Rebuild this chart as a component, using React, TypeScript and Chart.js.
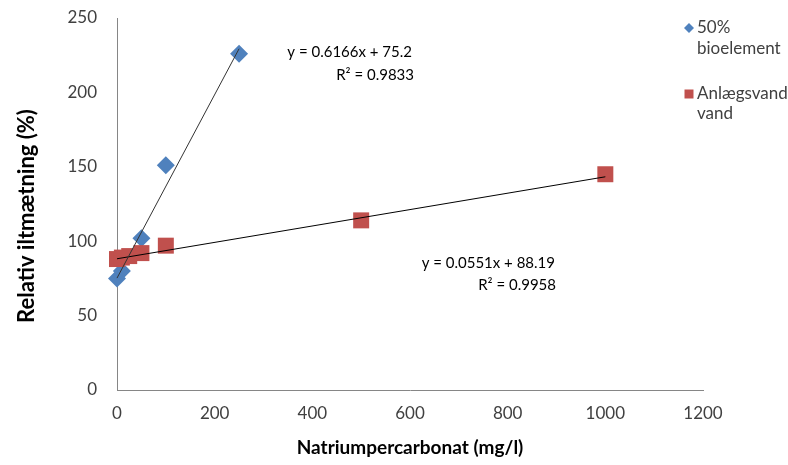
import React, { useEffect, useRef } from "react";
import { Chart, registerables } from "chart.js";

Chart.register(...registerables);

const bioX = [0, 10, 50, 100, 250];
const bioY = [75, 80, 102, 151, 226];
const anlX = [0, 10, 25, 50, 100, 500, 1000];
const anlY = [88, 89, 90, 92, 97, 114, 145];

const bioSlope = 0.6166;
const bioIntercept = 75.2;
const bioR2 = "0.9833";
const anlSlope = 0.0551;
const anlIntercept = 88.19;
const anlR2 = "0.9958";

const bioName = ["50%", "bioelement"];
const anlName = ["Anlægsvand", "vand"];

const xTitle = "Natriumpercarbonat (mg/l)";
const yTitle = "Relativ iltmætning (%)";

const BLUE = "#4F81BD";
const RED = "#C0504D";
const FONT = "Lato, 'Open Sans', sans-serif";

const toPts = (xs: number[], ys: number[]) => xs.map((x, i) => ({ x, y: ys[i] }));
const trend = (xs: number[], m: number, b: number) => {
  const lo = Math.min(...xs);
  const hi = Math.max(...xs);
  return [
    { x: lo, y: m * lo + b },
    { x: hi, y: m * hi + b },
  ];
};

const annotPlugin = {
  id: "annot",
  afterDraw(chart: any) {
    const ctx = chart.ctx;
    ctx.save();
    ctx.fillStyle = "#000";
    ctx.font = `15px ${FONT}`;
    ctx.textBaseline = "middle";
    ctx.textAlign = "right";
    // trendline equations
    ctx.fillText(`y = ${bioSlope}x + ${bioIntercept}`, 412, 52);
    ctx.fillText(`R² = ${bioR2}`, 414, 75);
    ctx.fillText(`y = ${anlSlope}x + ${anlIntercept}`, 555, 263);
    ctx.fillText(`R² = ${anlR2}`, 556, 285);

    // y-axis title
    ctx.save();
    ctx.translate(27, 216);
    ctx.rotate(-Math.PI / 2);
    ctx.textAlign = "center";
    ctx.font = `bold 22px ${FONT}`;
    ctx.fillStyle = "#000";
    ctx.fillText(yTitle, 0, 0);
    ctx.restore();

    // legend
    ctx.textAlign = "left";
    ctx.font = `17px ${FONT}`;
    const drawMarker = (style: string, color: string, x: number, y: number) => {
      ctx.fillStyle = color;
      ctx.beginPath();
      if (style === "diamond") {
        const r = 5;
        ctx.moveTo(x - r, y);
        ctx.lineTo(x, y - r);
        ctx.lineTo(x + r, y);
        ctx.lineTo(x, y + r);
        ctx.closePath();
      } else {
        ctx.rect(x - 4.5, y - 4.5, 9, 9);
      }
      ctx.fill();
    };
    drawMarker("diamond", BLUE, 689, 28);
    drawMarker("rect", RED, 689, 94);
    ctx.fillStyle = "#404040";
    bioName.forEach((t, i) => ctx.fillText(t, 697, 28 + i * 21));
    anlName.forEach((t, i) => ctx.fillText(t, 697, 94 + i * 20));
    ctx.restore();
  },
};

export default function App() {
  const ref = useRef<HTMLCanvasElement>(null);
  useEffect(() => {
    if (!ref.current) return;
    const chart = new Chart(ref.current, {
      type: "scatter",
      data: {
        datasets: [
          {
            label: "trend bio",
            data: trend(bioX, bioSlope, bioIntercept),
            showLine: true,
            pointRadius: 0,
            borderColor: "#333333",
            borderWidth: 1,
            order: -1,
            clip: false,
          } as any,
          {
            label: "trend anl",
            data: trend(anlX, anlSlope, anlIntercept),
            showLine: true,
            pointRadius: 0,
            borderColor: "#000000",
            borderWidth: 1,
            order: -1,
            clip: false,
          } as any,
          {
            label: bioName.join(" "),
            data: toPts(bioX, bioY),
            pointStyle: "rectRot",
            pointRadius: 9,
            backgroundColor: BLUE,
            borderColor: BLUE,
            borderWidth: 0,
            order: 2,
            clip: false,
          } as any,
          {
            label: anlName.join(" "),
            data: toPts(anlX, anlY),
            pointStyle: "rect",
            pointRadius: 11.3,
            backgroundColor: RED,
            borderColor: RED,
            borderWidth: 0,
            order: 1,
            clip: false,
          } as any,
        ],
      },
      options: {
        animation: false,
        responsive: true,
        maintainAspectRatio: false,
        layout: { padding: { top: 18, right: 85, left: 0, bottom: 0 } },
        plugins: { legend: { display: false }, tooltip: { enabled: false } },
        scales: {
          x: {
            type: "linear",
            min: 0,
            max: 1200,
            ticks: {
              stepSize: 200,
              padding: 13,
              color: "#404040",
              font: { family: FONT, size: 17 },
              maxRotation: 0,
              callback: (v: any) => String(v),
            },
            grid: { display: false, drawTicks: false },
            border: { display: true, color: "#868686", width: 1 },
            title: {
              display: true,
              text: xTitle,
              color: "#000",
              font: { family: FONT, size: 19, weight: "bold" },
              padding: { top: 0, bottom: 6 },
            },
            afterFit(scale: any) {
              scale.height = 75;
            },
          },
          y: {
            type: "linear",
            min: 0,
            max: 250,
            ticks: {
              stepSize: 50,
              padding: 20,
              color: "#404040",
              font: { family: FONT, size: 17 },
            },
            grid: { display: false, drawTicks: false },
            border: { display: true, color: "#868686", width: 1 },
            title: { display: false },
            afterFit(scale: any) {
              scale.width = 117;
              scale.paddingTop = 0;
              scale.paddingBottom = 0;
            },
          },
        },
      },
      plugins: [annotPlugin],
    });
    return () => chart.destroy();
  }, []);
  return (
    <div style={{ position: "fixed", left: 0, top: 0, width: 788, height: 465, background: "#fff" }}>
      <canvas ref={ref} />
    </div>
  );
}
